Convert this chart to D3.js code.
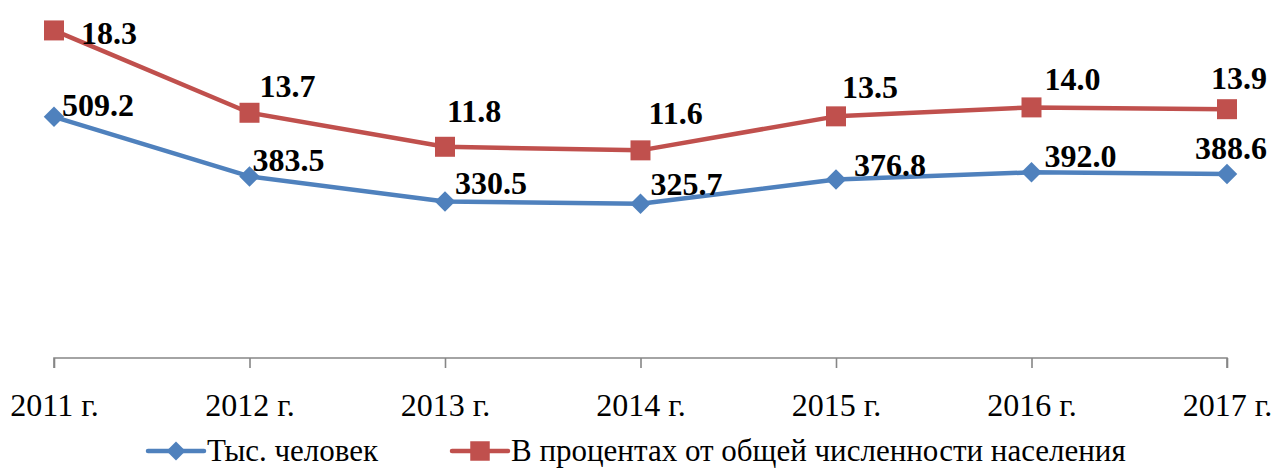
<!DOCTYPE html>
<html><head><meta charset="utf-8">
<script src="https://cdn.jsdelivr.net/npm/d3@7"></script>
<style>body{margin:0;background:#fff}svg{display:block}text{font-family:"Liberation Serif","Times New Roman","DejaVu Serif",serif}</style>
</head><body><svg id="c" width="1272" height="469"></svg>
<script>
const categories = ["2011 г.","2012 г.","2013 г.","2014 г.","2015 г.","2016 г.","2017 г."];
const thousands = [509.2,383.5,330.5,325.7,376.8,392.0,388.6];
const percent = [18.3,13.7,11.8,11.6,13.5,14.0,13.9];
const seriesNames = ["Тыс. человек","В процентах от общей численности населения"];

// layout: label nudges relative to each point (dx to text start, dy to text middle)
const blueNudge = [[8,-12],[3,-17],[10,-19],[10,-20],[18,-15],[13,-17],[-32,-26]];
const redNudge = [[27,2],[10,-27],[2,-36],[8,-38],[6,-30],[13,-29],[-16,-31]];

const svg = d3.select("#c");
const x = d3.scalePoint().domain(categories).range([54,1227]);
const yB = d3.scaleLinear().domain([0,756]).range([358,0]);
const yR = d3.scaleLinear().domain([0,20]).range([358,0]);
const blue="#4F81BD", red="#C0504D";

// axis
const ax = d3.axisBottom(x).tickSize(10).tickPadding(25);
const g = svg.append("g").attr("transform","translate(0,358)").call(ax);
g.attr("font-family",null);
g.select(".domain").attr("stroke","#868686").attr("stroke-width",1.6).attr("d","M54,10V0H1227V10");
g.selectAll(".tick line").attr("stroke","#868686").attr("stroke-width",1.6);
g.selectAll(".tick text").style("font-size","32px").attr("fill","#000");

const diamondPath = s => d3.symbol().type(d3.symbolSquare).size(s)();
function series(vals, y, color, isDiamond, nudge){
  const line = d3.line().x((d,i)=>x(categories[i])).y(d=>y(d));
  svg.append("path").datum(vals).attr("d",line).attr("fill","none").attr("stroke",color).attr("stroke-width",4.5).attr("stroke-linejoin","round");
  svg.selectAll(null).data(vals).enter().append("path")
    .attr("d",isDiamond?diamondPath(210):d3.symbol().type(d3.symbolSquare).size(400)())
    .attr("fill",color)
    .attr("transform",(d,i)=>`translate(${x(categories[i])},${y(d)})${isDiamond?" rotate(45)":""}`);
  svg.selectAll(null).data(vals).enter().append("text")
    .attr("x",(d,i)=>x(categories[i])+nudge[i][0])
    .attr("y",(d,i)=>y(d)+nudge[i][1])
    .attr("dy","0.35em")
    .style("font-weight","bold").style("font-size","32px").attr("fill","#000")
    .text(d=>d.toFixed(1));
}
series(thousands,yB,blue,true,blueNudge);
series(percent,yR,red,false,redNudge);

// legend
const leg = [{name:seriesNames[0],color:blue,diamond:true,x0:148},{name:seriesNames[1],color:red,diamond:false,x0:452}];
leg.forEach(l=>{
  const lg = svg.append("g").attr("transform",`translate(${l.x0},451)`);
  lg.append("line").attr("x1",0).attr("x2",56).attr("stroke",l.color).attr("stroke-width",4.5).attr("stroke-linecap","round");
  lg.append("path").attr("d",l.diamond?diamondPath(180):d3.symbol().type(d3.symbolSquare).size(380)())
    .attr("fill",l.color).attr("transform",l.diamond?"translate(28,0) rotate(45)":"translate(28,0)");
  lg.append("text").attr("x",59).attr("dy","0.33em").style("font-size","31px").attr("fill","#000").text(l.name);
});
</script></body></html>
